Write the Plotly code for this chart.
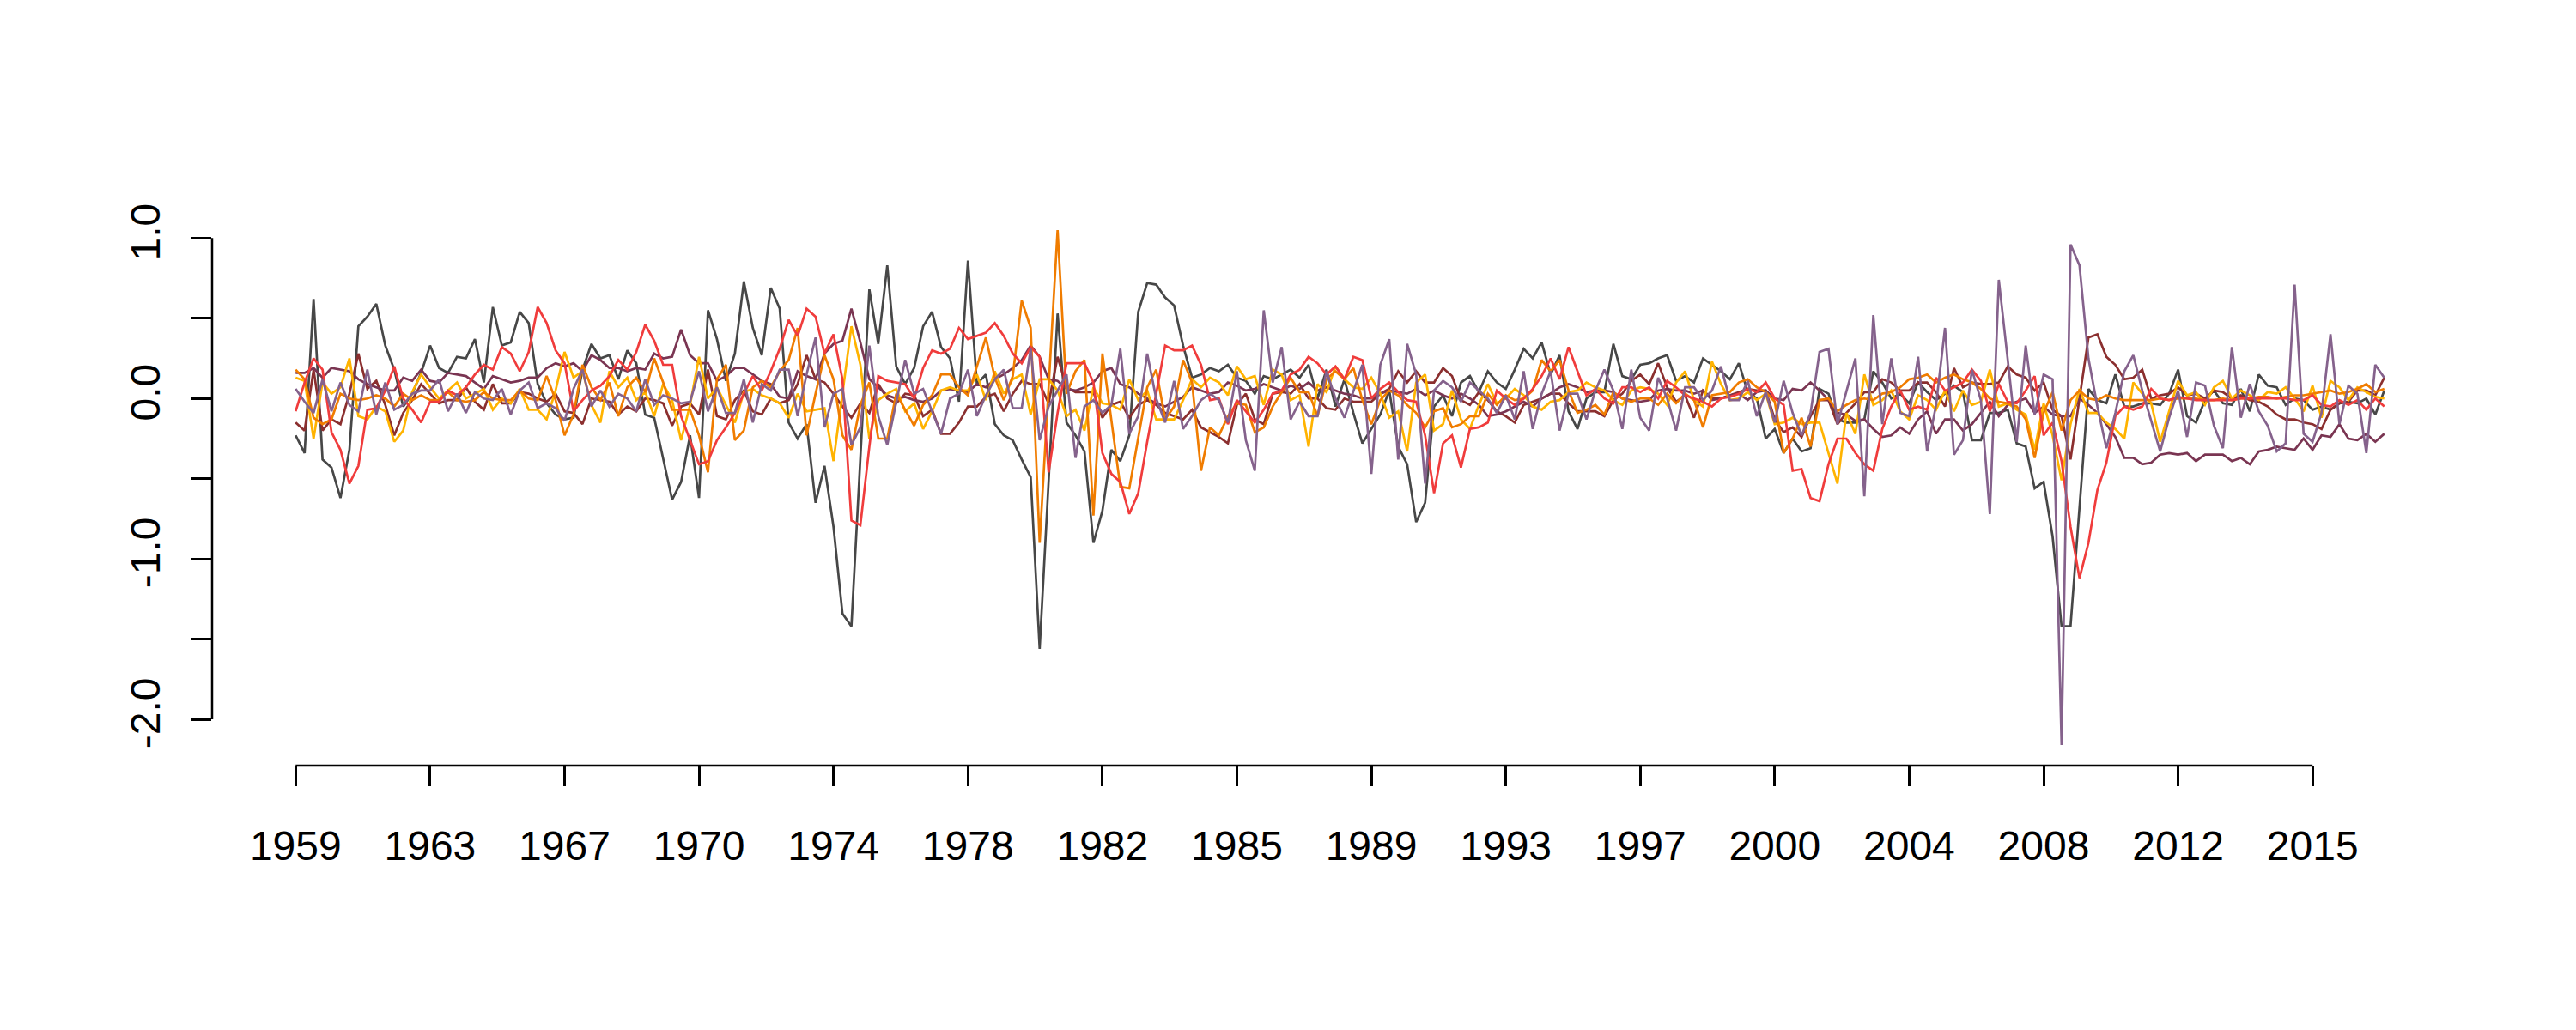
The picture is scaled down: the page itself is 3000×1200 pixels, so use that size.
import plotly.graph_objects as go

# quarterly index 1959Q1 .. 2017Q2
tick_pos = [0, 15, 30, 45, 60, 75, 90, 105, 120, 135, 150, 165, 180, 195, 210, 225]
tick_labels = ["1959", "1963", "1967", "1970", "1974", "1978", "1982", "1985",
               "1989", "1993", "1997", "2000", "2004", "2008", "2012", "2015"]
y_tick_vals = [-2.0, -1.5, -1.0, -0.5, 0.0, 0.5, 1.0]
y_tick_text = ["-2.0", "", "-1.0", "", "0.0", "", "1.0"]

grey = [
    -0.23, -0.34, 0.62, -0.38, -0.43, -0.62, -0.32, 0.45, 0.51, 0.59,
    0.33, 0.18, -0.05, 0.03, 0.16, 0.33, 0.19, 0.16, 0.26, 0.25,
    0.37, 0.10, 0.57, 0.33, 0.35, 0.54, 0.47, 0.09, -0.03, -0.10,
    -0.13, -0.12, 0.18, 0.34, 0.25, 0.27, 0.12, 0.30, 0.22, -0.10,
    -0.12, -0.37, -0.63, -0.52, -0.23, -0.62, 0.55, 0.37, 0.11, 0.28,
    0.73, 0.44, 0.27, 0.69, 0.56, -0.15, -0.25, -0.16, -0.65, -0.42,
    -0.80, -1.34, -1.42, -0.37, 0.68, 0.34, 0.83, 0.20, 0.09, 0.19,
    0.45, 0.54, 0.32, 0.25, -0.02, 0.86, 0.09, 0.15, -0.16, -0.23,
    -0.26, -0.38, -0.49, -1.56, -0.50, 0.53, -0.15, -0.23, -0.33, -0.90,
    -0.70, -0.32, -0.39, -0.23, 0.54, 0.72, 0.71, 0.63, 0.58, 0.33,
    0.13, 0.15, 0.19, 0.17, 0.21, 0.13, 0.11, 0.03, 0.14, 0.12,
    0.15, 0.18, 0.13, 0.21, 0.00, 0.18, -0.05, 0.12, -0.09, -0.28,
    -0.19, -0.10, 0.05, -0.30, -0.41, -0.77, -0.65, -0.05, 0.02, -0.11,
    0.10, 0.14, 0.04, 0.17, 0.10, 0.06, 0.18, 0.31, 0.25, 0.35,
    0.15, 0.27, -0.08, -0.19, 0.00, 0.04, 0.04, 0.34, 0.14, 0.12,
    0.21, 0.22, 0.25, 0.27, 0.11, 0.14, 0.10, 0.25, 0.21, 0.17,
    0.12, 0.22, 0.04, 0.00, -0.25, -0.19, -0.34, -0.25, -0.33, -0.31,
    0.06, 0.03, -0.13, -0.15, -0.15, -0.13, 0.17, 0.10, 0.00, 0.03,
    -0.03, 0.10, 0.04, -0.01, 0.03, 0.08, 0.04, -0.26, -0.26, -0.09,
    -0.09, -0.07, -0.28, -0.30, -0.56, -0.52, -0.86, -1.42, -1.42, -0.68,
    0.06, -0.01, -0.03, 0.15, -0.05, -0.05, -0.03, -0.03, -0.04, 0.03,
    0.18, -0.11, -0.15, -0.01, 0.05, -0.03, -0.04, 0.06, -0.08, 0.15,
    0.08, 0.07, -0.04, 0.00, -0.01, -0.07, -0.05, -0.07, -0.03, -0.02,
    -0.03, 0.00, -0.10, 0.05,
]

red = [
    -0.08, 0.10, 0.25, 0.18, -0.21, -0.32, -0.53, -0.42, -0.07, -0.06,
    0.05, 0.20, 0.00, -0.07, -0.15, -0.02, -0.02, 0.05, 0.02, 0.07,
    0.15, 0.21, 0.18, 0.32, 0.28, 0.17, 0.29, 0.57, 0.47, 0.30,
    0.22, -0.08, -0.01, 0.05, 0.08, 0.14, 0.24, 0.18, 0.29, 0.46,
    0.36, 0.21, 0.21, -0.11, -0.26, -0.41, -0.39, -0.26, -0.18, -0.09,
    0.03, 0.14, 0.05, 0.17, 0.31, 0.49, 0.39, 0.56, 0.51, 0.28,
    0.40, 0.12, -0.76, -0.79, -0.30, 0.14, 0.11, 0.10, 0.09, 0.00,
    0.19, 0.30, 0.28, 0.31, 0.44, 0.37, 0.39, 0.41, 0.47, 0.39,
    0.28, 0.22, 0.32, 0.26, -0.46, -0.09, 0.22, 0.22, 0.22, 0.10,
    -0.34, -0.47, -0.52, -0.72, -0.59, -0.27, 0.03, 0.33, 0.30, 0.30,
    0.33, 0.21, -0.01, 0.00, -0.16, -0.01, -0.08, -0.15, -0.07, 0.03,
    0.05, 0.15, 0.18, 0.26, 0.22, 0.15, 0.20, 0.12, 0.26, 0.24,
    0.00, 0.06, 0.10, 0.04, -0.01, -0.02, -0.23, -0.59, -0.28, -0.23,
    -0.43, -0.19, -0.18, -0.15, 0.05, 0.00, -0.04, 0.00, 0.06, 0.14,
    0.25, 0.12, 0.32, 0.17, 0.02, 0.06, 0.00, -0.03, 0.07, 0.07,
    0.04, 0.07, 0.00, 0.11, 0.07, 0.02, 0.00, -0.02, -0.05, 0.00,
    0.01, 0.03, 0.06, 0.04, 0.10, 0.00, -0.04, -0.45, -0.44, -0.62,
    -0.64, -0.41, -0.25, -0.25, -0.34, -0.41, -0.45, -0.19, -0.05, 0.05,
    -0.07, -0.05, -0.07, 0.13, 0.05, 0.07, 0.10, 0.18, 0.11, -0.08,
    0.09, -0.02, -0.03, 0.05, 0.14, -0.23, -0.15, -0.39, -0.80, -1.12,
    -0.90, -0.57, -0.40, -0.11, -0.05, -0.07, -0.05, 0.06, 0.00, -0.01,
    0.01, 0.00, -0.01, -0.01, -0.01, -0.01, -0.01, 0.00, 0.00, 0.00,
    0.00, 0.00, 0.00, -0.01, -0.01, 0.02, -0.04, -0.05, -0.01, -0.04,
    -0.01, -0.07, 0.00, -0.05,
]

orange = [
    0.18, 0.12, -0.12, -0.16, -0.13, 0.03, 0.00, -0.01, 0.00, 0.02,
    0.00, -0.05, 0.03, -0.01, 0.02, -0.01, -0.01, 0.04, -0.01, -0.02,
    -0.01, 0.04, 0.00, -0.01, -0.01, 0.05, 0.00, -0.01, 0.14, -0.01,
    -0.23, -0.10, 0.21, 0.07, -0.01, 0.10, -0.11, 0.07, 0.13, 0.04,
    0.25, 0.10, -0.07, -0.07, -0.07, -0.23, -0.46, 0.12, 0.21, -0.26,
    -0.20, 0.07, 0.11, 0.07, 0.17, 0.24, 0.44, -0.23, 0.03, 0.27,
    0.12, -0.23, -0.32, -0.04, 0.10, -0.25, -0.25, 0.03, -0.07, -0.17,
    -0.04, 0.02, 0.15, 0.15, 0.07, 0.02, 0.20, 0.38, 0.13, -0.01,
    0.14, 0.61, 0.44, -0.90, 0.07, 1.05, 0.03, 0.17, 0.24, -0.73,
    0.28, -0.13, -0.55, -0.56, -0.25, 0.07, 0.18, -0.13, -0.05, 0.24,
    0.10, -0.45, -0.18, -0.23, -0.11, -0.03, -0.04, -0.21, -0.18, -0.05,
    0.04, 0.13, 0.04, 0.04, -0.11, 0.12, 0.17, 0.12, 0.19, -0.01,
    -0.16, -0.01, 0.05, 0.02, -0.04, -0.09, -0.18, -0.08, -0.06, -0.18,
    -0.16, -0.11, -0.11, 0.03, -0.04, 0.02, -0.01, 0.00, 0.05, 0.24,
    0.17, 0.24, 0.05, -0.09, -0.07, -0.04, -0.10, 0.04, 0.00, -0.02,
    0.00, 0.00, -0.04, 0.03, -0.03, 0.03, -0.01, -0.18, 0.02, 0.03,
    0.04, 0.10, 0.12, 0.07, 0.04, -0.02, -0.34, -0.25, -0.12, -0.30,
    -0.01, 0.00, -0.08, -0.04, -0.01, 0.00, -0.01, 0.03, 0.04, 0.07,
    0.12, 0.13, 0.15, 0.10, 0.13, 0.15, 0.12, 0.10, 0.06, 0.00,
    -0.02, -0.03, -0.05, -0.13, -0.37, -0.09, 0.04, -0.20, -0.01, 0.05,
    0.00, -0.01, 0.02, 0.00, -0.01, -0.01, -0.01, -0.01, 0.00, -0.01,
    0.00, 0.00, 0.00, -0.01, -0.01, 0.00, -0.01, 0.00, 0.00, 0.01,
    0.01, 0.00, 0.01, 0.02, 0.02, 0.03, 0.04, 0.05, 0.03, 0.04,
    0.06, 0.09, 0.04, 0.06,
]

gold = [
    0.13, 0.11, -0.25, 0.10, 0.03, 0.07, 0.25, -0.11, -0.13, -0.05,
    -0.08, -0.27, -0.20, 0.04, 0.15, 0.07, 0.00, 0.05, 0.10, 0.00,
    0.03, 0.06, -0.07, 0.00, -0.03, 0.06, -0.07, -0.07, -0.13, 0.05,
    0.29, 0.13, 0.17, -0.04, -0.15, 0.17, 0.07, 0.13, -0.01, 0.04,
    -0.11, 0.09, -0.01, -0.26, -0.04, 0.26, 0.00, 0.07, -0.04, -0.15,
    0.04, 0.06, 0.02, 0.00, -0.03, -0.12, 0.03, -0.08, -0.07, -0.06,
    -0.39, 0.03, 0.45, 0.21, -0.25, -0.01, 0.03, 0.06, -0.08, -0.03,
    -0.19, -0.08, 0.05, 0.07, 0.05, 0.05, 0.15, -0.01, 0.17, 0.03,
    0.12, 0.15, -0.10, 0.12, 0.12, 0.05, -0.11, -0.07, -0.20, 0.07,
    -0.03, -0.04, -0.07, 0.12, -0.01, 0.05, -0.13, -0.13, -0.13, -0.01,
    0.12, 0.07, 0.13, 0.10, 0.02, 0.20, 0.12, 0.14, -0.04, 0.18,
    0.15, -0.01, 0.02, -0.30, 0.09, 0.04, 0.20, 0.12, 0.07, 0.06,
    0.13, 0.03, -0.12, -0.08, -0.33, 0.10, 0.15, -0.20, -0.16, 0.05,
    -0.13, -0.19, -0.04, 0.09, -0.03, 0.00, 0.06, 0.02, -0.05, -0.07,
    -0.02, -0.01, 0.04, 0.05, 0.10, 0.07, 0.05, -0.01, -0.04, 0.05,
    0.07, 0.06, 0.03, -0.04, 0.10, 0.17, -0.01, -0.05, 0.23, 0.09,
    -0.01, 0.00, 0.04, -0.01, 0.03, -0.16, -0.15, -0.12, -0.16, -0.15,
    -0.15, -0.34, -0.53, -0.09, -0.22, 0.15, -0.04, -0.01, 0.05, -0.08,
    -0.13, 0.02, -0.01, -0.07, 0.05, -0.08, 0.05, -0.04, -0.02, 0.18,
    -0.05, -0.03, -0.07, -0.10, -0.32, -0.03, -0.23, -0.51, -0.16, 0.06,
    -0.09, -0.09, -0.15, -0.19, -0.25, 0.10, 0.03, -0.03, -0.27, -0.08,
    0.11, 0.02, 0.04, -0.04, 0.07, 0.11, 0.00, 0.05, 0.02, -0.01,
    0.04, 0.03, 0.07, 0.00, -0.08, 0.08, -0.12, 0.11, 0.07, -0.01,
    0.07, 0.04, 0.01, 0.00,
]

purple = [
    0.06, -0.02, -0.09, 0.12, -0.08, 0.10, -0.04, -0.08, 0.18, -0.10,
    0.10, -0.07, -0.04, 0.03, 0.05, 0.05, 0.12, -0.08, 0.03, -0.09,
    0.04, 0.00, -0.01, 0.06, -0.10, 0.05, 0.10, -0.06, -0.03, -0.06,
    -0.14, 0.06, 0.18, -0.05, 0.05, -0.05, 0.03, 0.00, -0.08, 0.12,
    -0.04, 0.02, 0.00, -0.03, -0.02, 0.17, -0.08, 0.07, -0.09, -0.09,
    0.12, -0.15, 0.09, 0.05, 0.18, 0.18, -0.11, 0.15, 0.38, -0.18,
    0.03, 0.06, -0.29, -0.18, 0.33, -0.11, -0.29, -0.03, 0.24, 0.03,
    0.06, -0.08, -0.22, 0.00, 0.03, 0.18, -0.11, 0.02, 0.12, 0.18,
    -0.06, -0.06, 0.31, -0.26, -0.05, 0.05, 0.15, -0.37, -0.05, -0.01,
    -0.09, -0.04, 0.31, -0.22, -0.11, 0.28, 0.00, -0.15, 0.11, -0.19,
    -0.11, -0.01, 0.03, -0.01, -0.15, 0.17, -0.26, -0.45, 0.55, 0.10,
    0.32, -0.13, -0.02, -0.11, -0.11, 0.17, 0.00, -0.12, 0.04, 0.21,
    -0.47, 0.21, 0.37, -0.38, 0.34, 0.15, -0.53, 0.05, 0.11, 0.07,
    -0.02, 0.10, 0.05, 0.00, -0.09, 0.02, -0.13, 0.17, -0.19, 0.03,
    0.17, -0.20, 0.03, 0.03, -0.13, 0.05, 0.18, 0.05, -0.19, 0.18,
    -0.12, -0.20, 0.13, 0.00, -0.20, 0.07, 0.07, -0.01, 0.05, 0.20,
    -0.01, -0.01, 0.11, -0.11, 0.04, -0.15, 0.11, -0.09, -0.23, -0.09,
    0.29, 0.31, -0.16, 0.05, 0.25, -0.61, 0.52, -0.16, 0.25, -0.09,
    -0.11, 0.26, -0.33, -0.04, 0.44, -0.35, -0.26, 0.18, -0.01, -0.72,
    0.74, 0.24, -0.27, 0.33, -0.10, 0.15, 0.12, -2.16, 0.96, 0.83,
    0.25, -0.05, -0.31, -0.09, 0.17, 0.27, 0.05, -0.14, -0.33, -0.12,
    0.05, -0.24, 0.10, 0.08, -0.17, -0.31, 0.32, -0.12, 0.09, -0.08,
    -0.17, -0.33, -0.28, 0.71, -0.22, -0.27, -0.09, 0.40, -0.16, 0.08,
    0.03, -0.34, 0.21, 0.13,
]

brown = [
    -0.15, -0.20, 0.18, -0.20, -0.13, -0.16, 0.03, 0.28, 0.06, 0.11,
    -0.04, -0.23, -0.09, -0.01, 0.09, 0.03, -0.03, -0.01, -0.01, 0.07,
    -0.02, -0.07, 0.09, -0.03, -0.03, 0.04, 0.03, 0.00, -0.02, 0.03,
    -0.08, -0.09, -0.16, 0.00, -0.01, -0.02, -0.10, -0.05, -0.08, 0.00,
    -0.01, -0.03, -0.17, -0.05, -0.03, -0.10, 0.18, -0.11, -0.13, -0.01,
    0.05, -0.08, -0.10, 0.00, -0.03, -0.01, 0.09, 0.27, 0.12, 0.10,
    0.03, -0.05, -0.12, -0.03, -0.09, 0.09, 0.00, -0.03, 0.03, 0.02,
    -0.11, -0.07, -0.22, -0.22, -0.15, -0.05, -0.05, 0.01, 0.03, -0.08,
    0.03, 0.11, 0.09, 0.09, -0.03, 0.26, 0.07, 0.04, 0.04, 0.04,
    -0.12, -0.04, -0.02, -0.12, -0.04, -0.01, -0.04, -0.09, -0.11, -0.13,
    -0.07, -0.18, -0.21, -0.24, -0.28, -0.04, 0.03, -0.13, -0.16, 0.03,
    0.04, 0.03, 0.09, 0.00, 0.00, -0.06, -0.07, 0.00, -0.02, -0.02,
    -0.02, 0.03, 0.06, 0.17, 0.10, 0.17, 0.10, 0.10, 0.19, 0.14,
    -0.01, -0.04, 0.04, -0.01, -0.08, -0.11, -0.15, -0.04, -0.02, 0.00,
    0.03, 0.03, -0.03, -0.08, -0.08, -0.08, -0.11, -0.01, 0.03, 0.11,
    0.15, 0.09, 0.22, 0.07, -0.02, 0.02, -0.12, 0.05, 0.00, 0.00,
    0.02, 0.04, 0.06, 0.05, 0.05, -0.13, -0.21, -0.18, -0.24, -0.11,
    -0.01, -0.01, -0.16, -0.09, -0.03, 0.04, 0.04, 0.12, 0.10, 0.05,
    0.05, 0.10, 0.10, 0.04, -0.05, 0.19, 0.07, 0.10, 0.09, 0.09,
    0.10, 0.20, 0.15, 0.13, 0.05, 0.10, -0.07, -0.11, -0.38, 0.00,
    0.38, 0.40, 0.26, 0.21, 0.12, 0.13, 0.18, 0.00, 0.02, 0.03,
    0.07, 0.02, 0.03, 0.00, 0.05, 0.04, 0.00, 0.02, -0.01, -0.02,
    -0.05, -0.10, -0.13, -0.13, -0.15, -0.16, -0.19, -0.07, -0.03, -0.02,
    0.05, 0.05, 0.02, 0.13,
]

plum = [
    0.16, 0.16, 0.19, 0.13, 0.19, 0.18, 0.17, 0.12, 0.09, 0.07,
    0.05, 0.05, 0.13, 0.11, 0.18, 0.11, 0.10, 0.16, 0.15, 0.14,
    0.10, 0.06, 0.14, 0.12, 0.10, 0.11, 0.13, 0.13, 0.19, 0.22,
    0.20, 0.22, 0.17, 0.27, 0.24, 0.19, 0.19, 0.17, 0.19, 0.18,
    0.28, 0.25, 0.26, 0.43, 0.27, 0.22, 0.22, 0.11, 0.14, 0.19,
    0.19, 0.15, 0.11, 0.09, 0.01, 0.00, 0.17, 0.14, 0.12, 0.28,
    0.34, 0.36, 0.56, 0.35, 0.12, 0.07, 0.02, 0.00, 0.01, -0.01,
    -0.02, 0.00, 0.05, 0.06, 0.05, 0.04, 0.09, 0.07, 0.12, 0.15,
    0.19, 0.24, 0.33, 0.26, 0.12, 0.11, 0.06, 0.05, 0.07, 0.10,
    0.17, 0.19, 0.09, 0.07, 0.03, 0.00, -0.03, -0.05, -0.02, 0.01,
    0.07, 0.05, 0.03, 0.04, 0.10, 0.08, 0.05, 0.06, 0.09, 0.07,
    0.05, 0.08, 0.06, 0.10, 0.05, 0.07, 0.05, 0.03, 0.02, 0.00,
    0.00, 0.03, 0.05, 0.04, 0.03, 0.06, 0.02, 0.05, 0.02, 0.00,
    0.03, 0.00, -0.04, -0.11, -0.10, -0.08, -0.05, -0.02, -0.05, 0.00,
    0.03, 0.07, 0.09, 0.07, 0.04, 0.05, 0.05, 0.04, 0.00, -0.01,
    -0.02, -0.01, 0.05, 0.06, 0.05, 0.05, 0.03, 0.05, -0.01, 0.00,
    0.02, 0.03, -0.01, 0.04, 0.05, 0.00, -0.01, 0.06, 0.05, 0.10,
    0.05, -0.01, -0.09, -0.10, -0.14, -0.13, -0.19, -0.24, -0.23, -0.18,
    -0.22, -0.13, -0.08, -0.22, -0.13, -0.13, -0.20, -0.16, -0.09, -0.02,
    -0.11, -0.04, -0.02, 0.00, -0.09, -0.05, -0.10, -0.11, -0.11, 0.00,
    -0.04, -0.09, -0.16, -0.24, -0.37, -0.37, -0.41, -0.40, -0.35, -0.34,
    -0.35, -0.34, -0.39, -0.35, -0.35, -0.35, -0.39, -0.37, -0.41, -0.33,
    -0.32, -0.30, -0.31, -0.32, -0.25, -0.32, -0.23, -0.24, -0.16, -0.25,
    -0.26, -0.22, -0.27, -0.22,
]

series = [
    ("grey", grey, "#474747"),
    ("brown", brown, "#8B2F2F"),
    ("plum", plum, "#7A3552"),
    ("gold", gold, "#FFB300"),
    ("orange", orange, "#F07C00"),
    ("red", red, "#F03C3C"),
    ("purple", purple, "#85628C"),
]

n = len(grey)
for name, vals, _ in series:
    assert len(vals) == n, (name, len(vals))
x = list(range(n))

fig = go.Figure()
for name, vals, col in series:
    fig.add_trace(go.Scatter(x=x, y=vals, mode="lines", name=name,
                             line=dict(color=col, width=2.7), showlegend=False,
                             hoverinfo="skip"))

# R-style 4% axis padding
all_vals = [v for _, vals, _ in series for v in vals]
ymin, ymax = min(all_vals), max(all_vals)
ypad = 0.04 * (ymax - ymin)
xpad = 0.04 * (n - 1)

font = dict(family="Liberation Sans, Arial, sans-serif", size=48, color="black")

fig.update_layout(
    width=3000, height=1200,
    margin=dict(l=247, r=126, t=244, b=308, autoexpand=False),
    paper_bgcolor="white", plot_bgcolor="white",
    font=font,
    xaxis=dict(range=[-xpad, n - 1 + xpad], tickmode="array", tickvals=tick_pos,
               ticktext=tick_labels, showgrid=False, zeroline=False, showline=False,
               ticks="outside", ticklen=23, tickwidth=2.5, tickcolor="black",
               tickfont=font, ticklabelstandoff=28),
    yaxis=dict(range=[ymin - ypad, ymax + ypad], tickmode="array", tickvals=y_tick_vals,
               ticktext=y_tick_text, showgrid=False, zeroline=False, showline=False,
               ticks="outside", ticklen=23, tickwidth=2.5, tickcolor="black",
               tickfont=font, tickangle=-90, ticklabelstandoff=18),
    shapes=[
        dict(type="line", xref="x", yref="paper", x0=tick_pos[0], x1=tick_pos[-1],
             y0=0, y1=0, line=dict(color="black", width=2.5)),
        dict(type="line", xref="paper", yref="y", x0=0, x1=0,
             y0=y_tick_vals[0], y1=y_tick_vals[-1], line=dict(color="black", width=2.5)),
    ],
)

fig.write_html("out.html")
